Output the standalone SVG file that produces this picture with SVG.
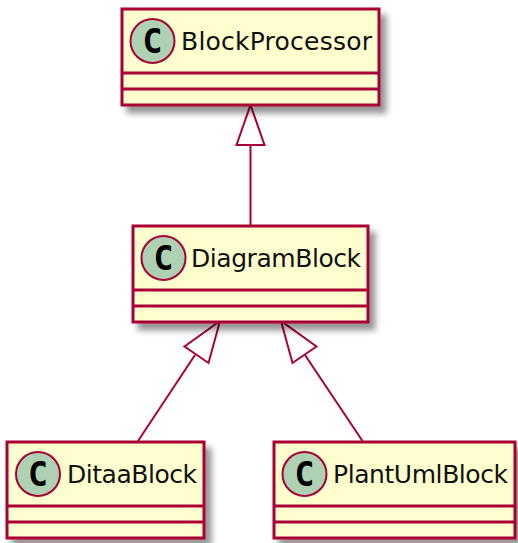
<svg xmlns="http://www.w3.org/2000/svg" width="518" height="543" viewBox="0 0 518 543">
<defs>
<filter id="shadow" x="-10%" y="-10%" width="125%" height="130%">
<feGaussianBlur in="SourceAlpha" stdDeviation="3.2"/>
<feOffset dx="6" dy="7"/>
<feComponentTransfer><feFuncA type="linear" slope="0.42"/></feComponentTransfer>
<feMerge><feMergeNode/><feMergeNode in="SourceGraphic"/></feMerge>
</filter>
</defs>
<style>
.box{fill:#FEFECE;stroke:#A80036;stroke-width:3;filter:url(#shadow)}
.div{stroke:#A80036;stroke-width:3;fill:none}
.spot{fill:#ADD1B2;stroke:#A80036;stroke-width:2}
.c{font-family:"DejaVu Sans Mono","DejaVu Sans",monospace;font-weight:bold;font-size:33px;fill:#000;text-anchor:middle}
.name{font-family:"DejaVu Sans",sans-serif;font-size:25px;fill:#111}
.line{stroke:#A80036;stroke-width:2;fill:none}
.head{stroke:#A80036;stroke-width:2;fill:#FFF}
</style>
<g id="connectors">
<line class="line" x1="250.5" y1="145" x2="250.500" y2="226"/>
<polygon class="head" points="250.500,105 236.500,145 264.500,145"/>
<line class="line" x1="195" y1="355" x2="138" y2="441"/>
<polygon class="head" points="220,321 184.500,346.500 208.500,363"/>
<line class="line" x1="305" y1="355" x2="362.500" y2="441"/>
<polygon class="head" points="281,321 292.500,363 316.500,346.500"/>
</g>
<g id="BlockProcessor">
<rect class="box" x="122" y="9" width="257" height="96"/>
<line class="div" x1="122" y1="73" x2="379" y2="73"/>
<line class="div" x1="122" y1="89" x2="379" y2="89"/>
<circle class="spot" cx="152.500" cy="41" r="22"/>
<text class="c" x="152.500" y="53">C</text>
<text class="name" x="181" y="50" textLength="191" lengthAdjust="spacing">BlockProcessor</text>
</g>
<g id="DiagramBlock">
<rect class="box" x="133" y="226" width="235" height="96"/>
<line class="div" x1="133" y1="290" x2="368" y2="290"/>
<line class="div" x1="133" y1="306" x2="368" y2="306"/>
<circle class="spot" cx="163.500" cy="258" r="22"/>
<text class="c" x="163.500" y="270">C</text>
<text class="name" x="191" y="267" textLength="170" lengthAdjust="spacing">DiagramBlock</text>
</g>
<g id="DitaaBlock">
<rect class="box" x="7" y="442" width="197" height="96"/>
<line class="div" x1="7" y1="506" x2="204" y2="506"/>
<line class="div" x1="7" y1="522" x2="204" y2="522"/>
<circle class="spot" cx="38" cy="474" r="22"/>
<text class="c" x="38" y="486">C</text>
<text class="name" x="67" y="483" textLength="130" lengthAdjust="spacing">DitaaBlock</text>
</g>
<g id="PlantUmlBlock">
<rect class="box" x="274" y="442" width="241" height="96"/>
<line class="div" x1="274" y1="506" x2="515" y2="506"/>
<line class="div" x1="274" y1="522" x2="515" y2="522"/>
<circle class="spot" cx="304.500" cy="474" r="22"/>
<text class="c" x="304.500" y="486">C</text>
<text class="name" x="333" y="483" textLength="175" lengthAdjust="spacing">PlantUmlBlock</text>
</g>
</svg>
